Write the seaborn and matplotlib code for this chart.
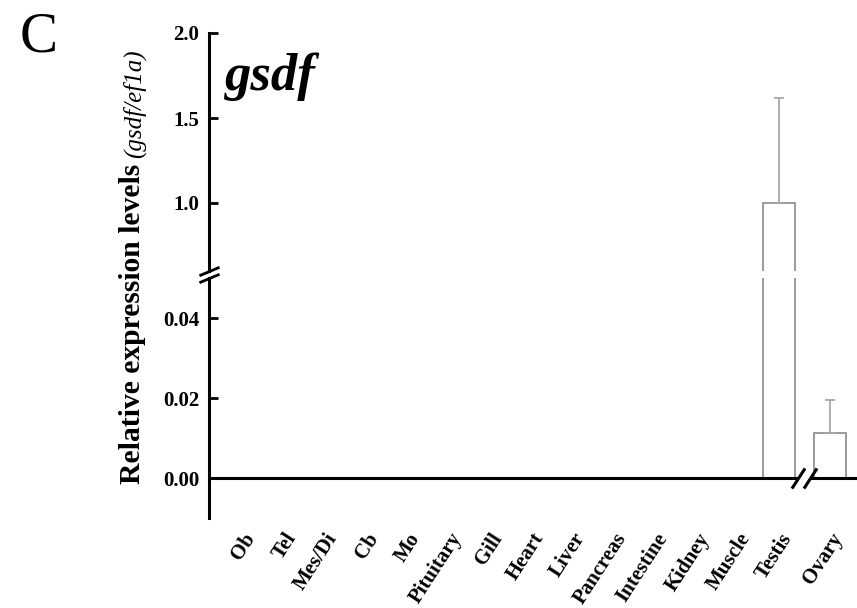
import numpy as np
import pandas as pd
import matplotlib.pyplot as plt
import seaborn as sns

tissues = ["Ob", "Tel", "Mes/Di", "Cb", "Mo", "Pituitary", "Gill", "Heart",
           "Liver", "Pancreas", "Intestine", "Kidney", "Muscle", "Testis", "Ovary"]
levels = [0, 0, 0, 0, 0, 0, 0, 0, 0, 0, 0, 0, 0, 1.0, 0.0113]
errors = [0, 0, 0, 0, 0, 0, 0, 0, 0, 0, 0, 0, 0, 0.62, 0.0082]

sns.set_style("white")
plt.rcParams["font.family"] = ["Liberation Serif", "DejaVu Serif"]
plt.rcParams["text.color"] = "black"
plt.rcParams["xtick.color"] = "black"
plt.rcParams["ytick.color"] = "black"

# x position of each bar, with a small gap for the axis break before Ovary
gap = 0.235
pos = np.arange(len(tissues)) + np.where(np.arange(len(tissues)) == len(tissues) - 1, gap, 0)
df = pd.DataFrame({"tissue": tissues, "level": levels, "err": errors, "pos": pos})

W, H = 857, 608
fig = plt.figure(figsize=(W / 100, H / 100), dpi=100)


def box(x0, y0, x1, y1):
    return [x0 / W, 1 - y1 / H, (x1 - x0) / W, (y1 - y0) / H]


ax_top = fig.add_axes(box(209, 33, 857, 271))
ax_bot = fig.add_axes(box(209, 278, 857, 518))

edge = "#8a8a8a"
xlim = (-0.81, 14.88)
for ax in (ax_top, ax_bot):
    sns.barplot(data=df, x="pos", y="level", native_scale=True, width=0.78,
                color="white", saturation=1, edgecolor=edge, linewidth=1.2,
                errorbar=None, ax=ax)
    ax.errorbar(df["pos"], df["level"], yerr=[np.zeros(len(df)), df["err"]],
                fmt="none", ecolor="#a8a8a8", elinewidth=1.3, capsize=3.6,
                capthick=1.3, zorder=1)
    ax.set_xlim(*xlim)
    for s in ("top", "right", "bottom"):
        ax.spines[s].set_visible(False)
    ax.spines["left"].set_linewidth(2.2)
    ax.spines["left"].set_color("black")
    ax.tick_params(axis="y", direction="in", length=6.5, width=2, pad=7,
                   labelsize=15, left=True)
    ax.set_xlabel("")
    ax.set_ylabel("")

ax_top.set_ylim(0.6, 2.0)
ax_top.set_yticks([1.0, 1.5, 2.0], labels=["1.0", "1.5", "2.0"], fontweight="bold")
ax_top.set_xticks([])

ax_bot.set_ylim(-0.01, 0.05)
ax_bot.set_yticks([0.0, 0.02, 0.04], labels=["0.00", "0.02", "0.04"], fontweight="bold")
ax_bot.set_xticks(df["pos"], labels=tissues, rotation=57, ha="right", va="top",
                  rotation_mode="anchor", fontweight="bold", fontsize=15)
ax_bot.tick_params(axis="x", length=0, pad=8)

# baseline at zero, broken between Testis and Ovary
brk = (13.46, 13.73)
ax_bot.hlines(0, xlim[0], brk[0], color="black", lw=2.2, zorder=5)
ax_bot.hlines(0, brk[1], xlim[1], color="black", lw=2.2, zorder=5)
ax_bot.plot(brk, [0, 0], marker=[(-0.65, -1), (0.65, 1)], markersize=14.5,
            ls="none", color="black", mec="black", mew=2.2, clip_on=False, zorder=6)

# break marks on the y axis
yk = dict(marker=[(-1, -0.42), (1, 0.42)], markersize=14.5, ls="none",
          color="black", mec="black", mew=2.0, clip_on=False, zorder=6)
ax_top.plot([0], [0], transform=ax_top.transAxes, **yk)
ax_bot.plot([0], [1], transform=ax_bot.transAxes, **yk)

fig.text(132 / W, 1 - 484 / H, "Relative expression levels", rotation=90,
         ha="center", va="bottom", fontsize=21.3, fontweight="bold")
fig.text(134 / W, 1 - 158 / H, "(gsdf/ef1a)", rotation=90, ha="center",
         va="bottom", fontsize=18, style="italic")

fig.text(225 / W, 1 - 90 / H, "gsdf", fontsize=38, fontweight="bold",
         style="italic", va="baseline")
fig.text(20 / W, 1 - 52 / H, "C", fontsize=41, va="baseline")

fig.savefig("out.png", dpi=100)
